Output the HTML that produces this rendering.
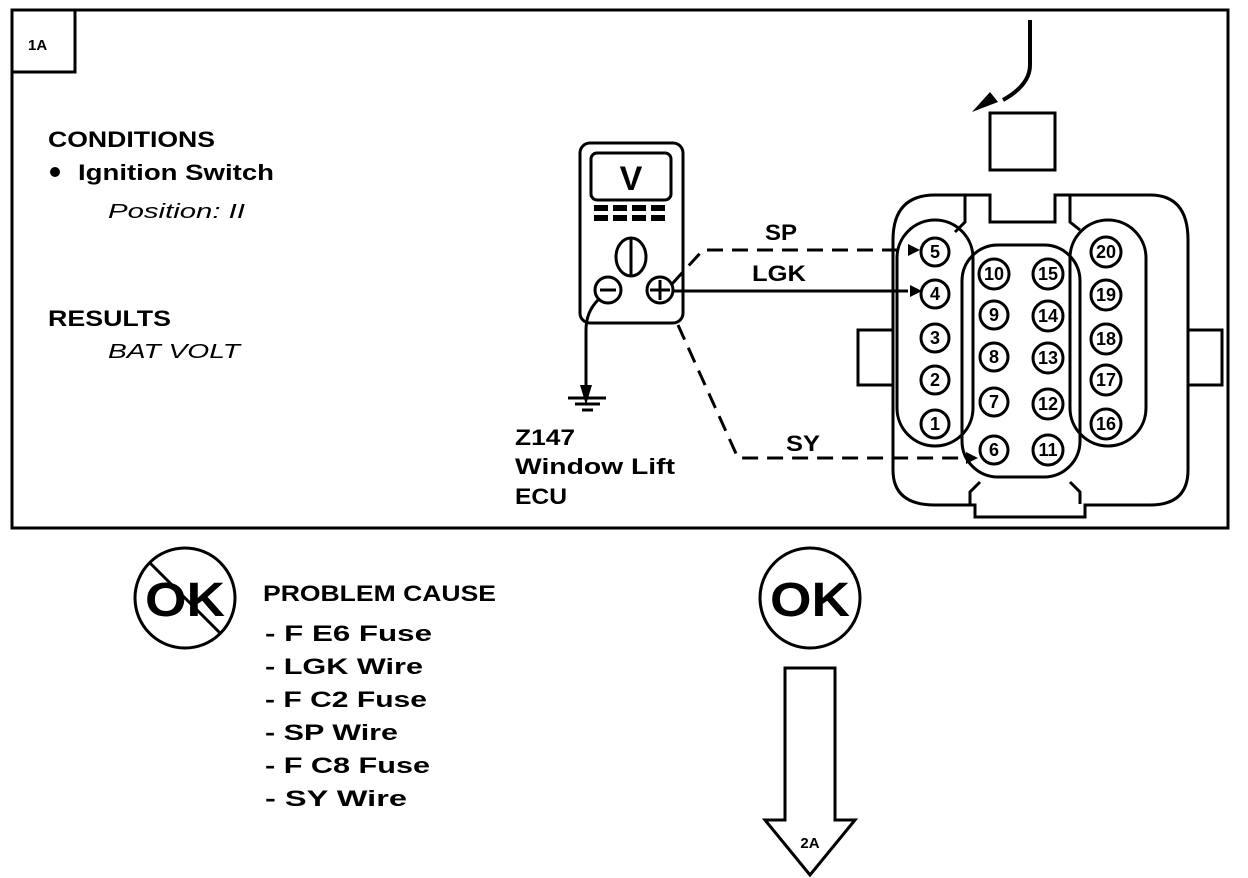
<!DOCTYPE html>
<html><head><style>
body{margin:0;background:#fff;}
svg{display:block;font-family:"Liberation Sans",sans-serif;font-weight:bold;}
</style></head><body>
<svg width="1248" height="878" viewBox="0 0 1248 878">
<g fill="none" stroke="#000" stroke-width="3">
<rect x="12" y="10" width="1216" height="518"/>
<path d="M12 72 H75 V10"/>
<rect x="580" y="143" width="103" height="180" rx="10"/>
<rect x="591" y="153" width="80" height="47" rx="6"/>
<ellipse cx="631" cy="257" rx="15" ry="19"/>
<line x1="631" y1="238" x2="631" y2="276"/>
<circle cx="608" cy="290" r="13"/>
<line x1="600" y1="290" x2="616" y2="290"/>
<circle cx="660" cy="290" r="13"/>
<line x1="650" y1="290" x2="670" y2="290"/><line x1="660" y1="280" x2="660" y2="300"/>
<path d="M598 300 Q586 312 586 330 V395"/>
<path d="M568 398 H606 M575 404 H600 M582 410 H593"/>
<path d="M672 284 L703 250 H905" stroke-dasharray="16 9"/>
<line x1="672" y1="291" x2="908" y2="291"/>
<path d="M678 325 L738 458 H962" stroke-dasharray="16 9"/>
<path d="M1030 20 V65 Q1030 85 1003 100" stroke-width="4"/>
<rect x="990" y="113" width="65" height="57"/>
<path d="M935 195 H990 V222 H1055 V195 H1150 Q1188 195 1188 240 V470 Q1188 505 1150 505 H1085 V517 H975 V505 H935 Q893 505 893 470 V240 Q893 195 935 195 Z"/>
<path d="M893 330 H858 V385 H893 M1188 330 H1222 V385 H1188"/>
<path d="M965 196 V222 L955 232 M1070 196 V222 L1080 230 M970 504 V492 L980 482 M1080 504 V492 L1070 482"/>
<rect x="897" y="220" width="76" height="226" rx="38"/>
<rect x="1070" y="220" width="76" height="226" rx="38"/>
<rect x="962" y="245" width="118" height="232" rx="36"/>
</g>
<g fill="#000">
<polygon points="586,405 580,385 592,385"/>
<polygon points="972,112 990,92 998,102"/>
<rect x="594" y="205" width="14" height="6"/><rect x="613" y="205" width="14" height="6"/><rect x="632" y="205" width="14" height="6"/><rect x="651" y="205" width="14" height="6"/>
<rect x="594" y="215" width="14" height="6"/><rect x="613" y="215" width="14" height="6"/><rect x="632" y="215" width="14" height="6"/><rect x="651" y="215" width="14" height="6"/>
<polygon points="920,250 908,244 908,256"/><polygon points="922,291 910,285 910,297"/><polygon points="978,458 966,452 966,464"/>
</g>
<g fill="#fff" stroke="#000" stroke-width="3">
<circle cx="935" cy="252" r="14"/><circle cx="935" cy="294" r="14"/><circle cx="935" cy="338" r="14"/><circle cx="935" cy="380" r="14"/><circle cx="935" cy="424" r="14"/>
<circle cx="994" cy="274" r="15"/><circle cx="994" cy="315" r="14"/><circle cx="994" cy="357" r="14"/><circle cx="994" cy="402" r="14"/><circle cx="994" cy="450" r="14"/>
<circle cx="1048" cy="274" r="15"/><circle cx="1048" cy="316" r="15"/><circle cx="1048" cy="358" r="15"/><circle cx="1048" cy="404" r="15"/><circle cx="1048" cy="450" r="15"/>
<circle cx="1106" cy="252" r="15"/><circle cx="1106" cy="295" r="15"/><circle cx="1106" cy="339" r="15"/><circle cx="1106" cy="380" r="15"/><circle cx="1106" cy="424" r="15"/>
</g>
<g font-size="18" text-anchor="middle">
<text x="935" y="258">5</text><text x="935" y="300">4</text><text x="935" y="344">3</text><text x="935" y="386">2</text><text x="935" y="430">1</text>
<text x="994" y="280">10</text><text x="994" y="321">9</text><text x="994" y="363">8</text><text x="994" y="408">7</text><text x="994" y="456">6</text>
<text x="1048" y="280">15</text><text x="1048" y="322">14</text><text x="1048" y="364">13</text><text x="1048" y="410">12</text><text x="1048" y="456">11</text>
<text x="1106" y="258">20</text><text x="1106" y="301">19</text><text x="1106" y="345">18</text><text x="1106" y="386">17</text><text x="1106" y="430">16</text>
</g>
<text x="631" y="190" font-size="34" text-anchor="middle">V</text>
<text x="28" y="50" font-size="15">1A</text>
<g lengthAdjust="spacingAndGlyphs">
<text x="48" y="147" font-size="22" textLength="167" lengthAdjust="spacingAndGlyphs">CONDITIONS</text>
<text x="78" y="180" font-size="22" textLength="196" lengthAdjust="spacingAndGlyphs">Ignition Switch</text>
<text x="108" y="218" font-size="20" font-style="italic" font-weight="normal" textLength="137" lengthAdjust="spacingAndGlyphs">Position: II</text>
<text x="48" y="326" font-size="22" textLength="123" lengthAdjust="spacingAndGlyphs">RESULTS</text>
<text x="108" y="358" font-size="20" font-style="italic" font-weight="normal" textLength="132" lengthAdjust="spacingAndGlyphs">BAT VOLT</text>
<text x="765" y="240" font-size="22" textLength="32" lengthAdjust="spacingAndGlyphs">SP</text>
<text x="752" y="281" font-size="22" textLength="54" lengthAdjust="spacingAndGlyphs">LGK</text>
<text x="786" y="451" font-size="22" textLength="34" lengthAdjust="spacingAndGlyphs">SY</text>
<text x="515" y="445" font-size="22" textLength="60" lengthAdjust="spacingAndGlyphs">Z147</text>
<text x="515" y="474" font-size="22" textLength="160" lengthAdjust="spacingAndGlyphs">Window Lift</text>
<text x="515" y="504" font-size="22" textLength="52" lengthAdjust="spacingAndGlyphs">ECU</text>
</g>
<circle cx="55" cy="172" r="5" fill="#000"/>
<circle cx="185" cy="598" r="50" fill="none" stroke="#000" stroke-width="3"/>
<text x="145" y="616" font-size="48" textLength="80" lengthAdjust="spacingAndGlyphs">OK</text>
<line x1="150" y1="563" x2="220" y2="633" stroke="#000" stroke-width="3"/>
<circle cx="810" cy="598" r="50" fill="none" stroke="#000" stroke-width="3"/>
<text x="770" y="616" font-size="48" textLength="80" lengthAdjust="spacingAndGlyphs">OK</text>
<path d="M785 668 H835 V820 H855 L810 875 L765 820 H785 Z" fill="none" stroke="#000" stroke-width="3"/>
<text x="810" y="848" font-size="15" text-anchor="middle">2A</text>
<g font-size="22">
<text x="263" y="601" textLength="233" lengthAdjust="spacingAndGlyphs">PROBLEM CAUSE</text>
<text x="265" y="641" textLength="167" lengthAdjust="spacingAndGlyphs">-  F E6  Fuse</text>
<text x="265" y="674" textLength="158" lengthAdjust="spacingAndGlyphs">-  LGK  Wire</text>
<text x="265" y="707" textLength="162" lengthAdjust="spacingAndGlyphs">-  F C2 Fuse</text>
<text x="265" y="740" textLength="133" lengthAdjust="spacingAndGlyphs">-  SP  Wire</text>
<text x="265" y="773" textLength="165" lengthAdjust="spacingAndGlyphs">-  F C8  Fuse</text>
<text x="265" y="806" textLength="142" lengthAdjust="spacingAndGlyphs">-  SY  Wire</text>
</g>
</svg>
</body></html>
